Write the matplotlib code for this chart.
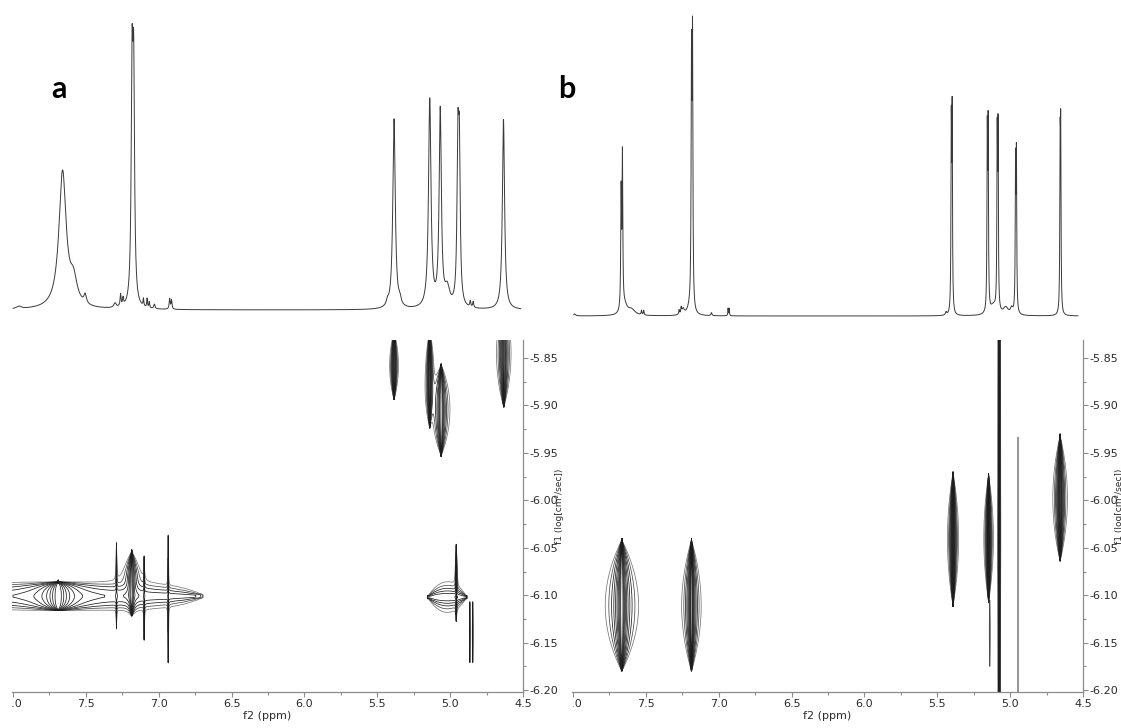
import numpy as np
import matplotlib
matplotlib.use('Agg')
import matplotlib.pyplot as plt
from matplotlib.ticker import MultipleLocator, FormatStrFormatter
from matplotlib.transforms import Bbox

plt.rcParams['font.family'] = ['DejaVu Sans']
plt.rcParams['axes.unicode_minus'] = False

W, H = 1121, 728

# ==========================================
# 1D proton spectra (ppm, relative height, half width at half max)
# ==========================================
A_LINE_PPM = [7.960, 7.660, 7.585, 7.505, 7.300, 7.262, 7.245, 7.183, 7.172,
              7.105, 7.080, 7.065, 7.030, 6.925, 6.912, 5.430, 5.385, 5.345,
              5.140, 5.068, 5.020, 4.947, 4.937, 4.862, 4.842, 4.634]
A_LINE_HEIGHT = [0.8, 46, 8, 3, 1.5, 4, 2.5, 74, 72,
                 2.5, 3, 2, 1.5, 3.5, 3, 1.5, 64, 2,
                 70, 66, 6, 50, 48, 2, 2, 64]
A_LINE_HWHM = [0.020, 0.030, 0.030, 0.010, 0.010, 0.004, 0.004, 0.007, 0.007,
               0.003, 0.003, 0.003, 0.005, 0.004, 0.004, 0.008, 0.010, 0.010,
               0.010, 0.009, 0.020, 0.007, 0.007, 0.004, 0.004, 0.009]

B_LINE_PPM = [7.990, 7.670, 7.661, 7.645, 7.600, 7.530, 7.515, 7.272, 7.258,
              7.245, 7.200, 7.187, 7.180, 7.050, 6.936, 6.928, 5.440, 5.404,
              5.398, 5.157, 5.151, 5.115, 5.089, 5.083, 5.030, 4.990, 4.963,
              4.957, 4.657, 4.653]
B_LINE_HEIGHT = [0.6, 39, 51, 3, 2, 1.5, 1.5, 1.5, 2,
                 2, 2, 81.5, 87.4, 1, 2.5, 2.5, 1, 61.4,
                 64.9, 57.7, 59.5, 3, 56.4, 58.2, 2.5, 2, 48.5,
                 50.8, 50.6, 54.9]
B_LINE_HWHM = [0.010, 0.003, 0.003, 0.020, 0.030, 0.003, 0.003, 0.003, 0.003,
               0.010, 0.020, 0.003, 0.003, 0.004, 0.002, 0.002, 0.005, 0.0025,
               0.0025, 0.0025, 0.0025, 0.025, 0.0025, 0.0025, 0.020, 0.010, 0.0025,
               0.0025, 0.0025, 0.0025]

# ==========================================
# DOSY cross peaks: centre, outer-ring extents, height (contour units),
# orientation of the lens (True = long in logD) and taper sharpness
# ==========================================
A_SPOT_PPM = [5.385, 5.140, 5.062, 4.632, 7.580, 7.690, 7.185, 7.290,
              7.100, 6.935, 5.020, 4.958, 4.865, 4.845]
A_SPOT_LOGD = [-5.858, -5.872, -5.905, -5.845, -6.101, -6.101, -6.088, -6.090,
               -6.103, -6.105, -6.102, -6.088, -6.140, -6.140]
A_SPOT_PPM_EXT = [0.030, 0.030, 0.060, 0.050, 0.900, 0.400, 0.060, 0.004,
                  0.004, 0.004, 0.135, 0.008, 0.003, 0.003]
A_SPOT_LOGD_EXT = [0.036, 0.052, 0.048, 0.057, 0.0145, 0.015, 0.034, 0.045,
                   0.044, 0.067, 0.016, 0.040, 0.032, 0.032]
A_SPOT_HEIGHT = [40, 40, 40, 30, 5, 150, 30, 4, 4, 4, 10, 10, 3, 3]
A_SPOT_VERTICAL = [True, True, True, True, False, True, True, True,
                   True, True, False, True, True, True]
A_SPOT_TAPER = [2, 2, 2, 2, 4, 3, 2, 2, 2, 2, 2, 2, 2, 2]

B_SPOT_PPM = [7.665, 7.187, 5.392, 5.148, 5.140, 5.075, 4.946, 4.657]
B_SPOT_LOGD = [-6.111, -6.111, -6.041, -6.040, -6.140, -6.000, -6.250, -5.998]
B_SPOT_PPM_EXT = [0.113, 0.065, 0.038, 0.032, 0.003, 0.010, 0.0015, 0.050]
B_SPOT_LOGD_EXT = [0.069, 0.069, 0.070, 0.067, 0.035, 0.600, 0.317, 0.066]
B_SPOT_HEIGHT = [100, 100, 100, 100, 2, 20, 1.5, 100]
B_SPOT_VERTICAL = [True] * 8
B_SPOT_TAPER = [2] * 8

CONTOUR_LEVELS = 1.6 ** np.arange(11)
CONTOUR_COLOURS = ['#767676', '#4a4a4a'] + ['#1e1e1e'] * 9

X_LIMITS = (8.007, 4.5)
Y_LIMITS = (-6.202, -5.831)


def lorentz_sum(x, centres, heights, hwhm):
    y = np.zeros_like(x)
    for c, h, w in zip(centres, heights, hwhm):
        y += h * w ** 2 / ((x - c) ** 2 + w ** 2)
    return y


def dosy_map(P, D, ppm, logd, ppm_ext, logd_ext, height, vertical, taper_pow):
    # each spot is a lens: Lorentzian across, tapering to points along its length
    Z = np.zeros_like(P)
    base = CONTOUR_LEVELS[0]
    for c, d, wx, wy, h, vert, n in zip(ppm, logd, ppm_ext, logd_ext,
                                         height, vertical, taper_pow):
        u = (P - c) / wx
        v = (D - d) / wy
        across, along = (u, v) if vert else (v, u)
        taper = np.clip(1.0 - np.abs(along) ** n, 0.0, None)
        q = taper / np.sqrt(h / base - 1.0)
        z = h / (1.0 + (across / np.maximum(q, 1e-9)) ** 2)
        Z += np.where(taper > 0, z, 0.0)
    return Z


def px_axes(fig, x0, y0, x1, y1):
    return fig.add_axes([x0 / W, 1 - y1 / H, (x1 - x0) / W, (y1 - y0) / H])


def style_map_axes(ax):
    ax.set_xlim(*X_LIMITS)
    ax.set_ylim(*Y_LIMITS)
    ax.patch.set_visible(False)
    for s in ('top', 'left'):
        ax.spines[s].set_visible(False)
    for s in ('right', 'bottom'):
        ax.spines[s].set_color('#8c8c8c')
        ax.spines[s].set_linewidth(0.9)
    ax.yaxis.tick_right()
    ax.xaxis.set_major_locator(MultipleLocator(0.5))
    ax.xaxis.set_minor_locator(MultipleLocator(0.25))
    ax.yaxis.set_major_locator(MultipleLocator(0.05))
    ax.yaxis.set_minor_locator(MultipleLocator(0.025))
    ax.xaxis.set_major_formatter(FormatStrFormatter('%.1f'))
    ax.yaxis.set_major_formatter(FormatStrFormatter('%.2f'))
    ax.tick_params(which='both', direction='out', color='#8c8c8c', width=0.8,
                   labelsize=8, labelcolor='#2b2b2b', pad=1.5)
    ax.tick_params(which='major', length=3.5)
    ax.tick_params(which='minor', length=2)
    ax.set_xlabel('f2 (ppm)', fontsize=8, labelpad=1.5, color='#2b2b2b')


fig = plt.figure(figsize=(W / 100, H / 100), dpi=100)

ppm_grid = np.arange(4.48, 8.02, 0.0005)
logd_grid = np.arange(-6.21, -5.82, 0.002)
P, D = np.meshgrid(ppm_grid, logd_grid)

panels = [
    dict(x0=12, x1=523, base=310, top=13, label='a', label_x=59, f1_x=560,
         spec=(np.linspace(8.0, 4.515, 14000), A_LINE_PPM, A_LINE_HEIGHT, A_LINE_HWHM),
         spots=(A_SPOT_PPM, A_SPOT_LOGD, A_SPOT_PPM_EXT, A_SPOT_LOGD_EXT,
                A_SPOT_HEIGHT, A_SPOT_VERTICAL, A_SPOT_TAPER), clip_x=12),
    dict(x0=572, x1=1083, base=316, top=20, label='b', label_x=567, f1_x=1120,
         spec=(np.linspace(7.995, 4.535, 14000), B_LINE_PPM, B_LINE_HEIGHT, B_LINE_HWHM),
         spots=(B_SPOT_PPM, B_SPOT_LOGD, B_SPOT_PPM_EXT, B_SPOT_LOGD_EXT,
                B_SPOT_HEIGHT, B_SPOT_VERTICAL, B_SPOT_TAPER), clip_x=573),
]

map_axes = []
for p in panels:
    # --- 1D spectrum on top
    ax_s = px_axes(fig, p['x0'], 0, p['x1'], 330)
    x, cen, hei, wid = p['spec']
    ax_s.plot(x, lorentz_sum(x, cen, hei, wid), color='#3a3a3a', lw=0.7)
    ax_s.set_xlim(*X_LIMITS)
    frac0 = (330 - p['base']) / 330
    frac1 = (330 - p['top']) / 330
    span = 100 / (frac1 - frac0)
    ax_s.set_ylim(-frac0 * span, -frac0 * span + span)
    ax_s.axis('off')

    # --- DOSY map
    ax_m = px_axes(fig, p['x0'], 340, p['x1'], 692)
    Z = dosy_map(P, D, *p['spots'])
    ax_m.contour(P, D, Z, levels=CONTOUR_LEVELS, colors=CONTOUR_COLOURS,
                 linewidths=0.55)
    style_map_axes(ax_m)
    map_axes.append((ax_m, p['clip_x']))

    fig.text(p['label_x'] / W, 1 - 98 / H, p['label'], fontsize=22,
             fontweight='bold', family='Lato', ha='center', va='baseline')
    fig.text(p['f1_x'] / W, 1 - 506 / H, 'f1 (log[cm\u00b2/sec])', fontsize=6.5,
             rotation=90, ha='center', va='center', color='#2b2b2b')

fig.canvas.draw()
for ax_m, clip_x in map_axes:
    for lab in ax_m.get_xticklabels():
        lab.set_clip_box(Bbox([[clip_x, 0], [W, H]]))
        lab.set_clip_on(True)

fig.savefig('out.png', dpi=100)
